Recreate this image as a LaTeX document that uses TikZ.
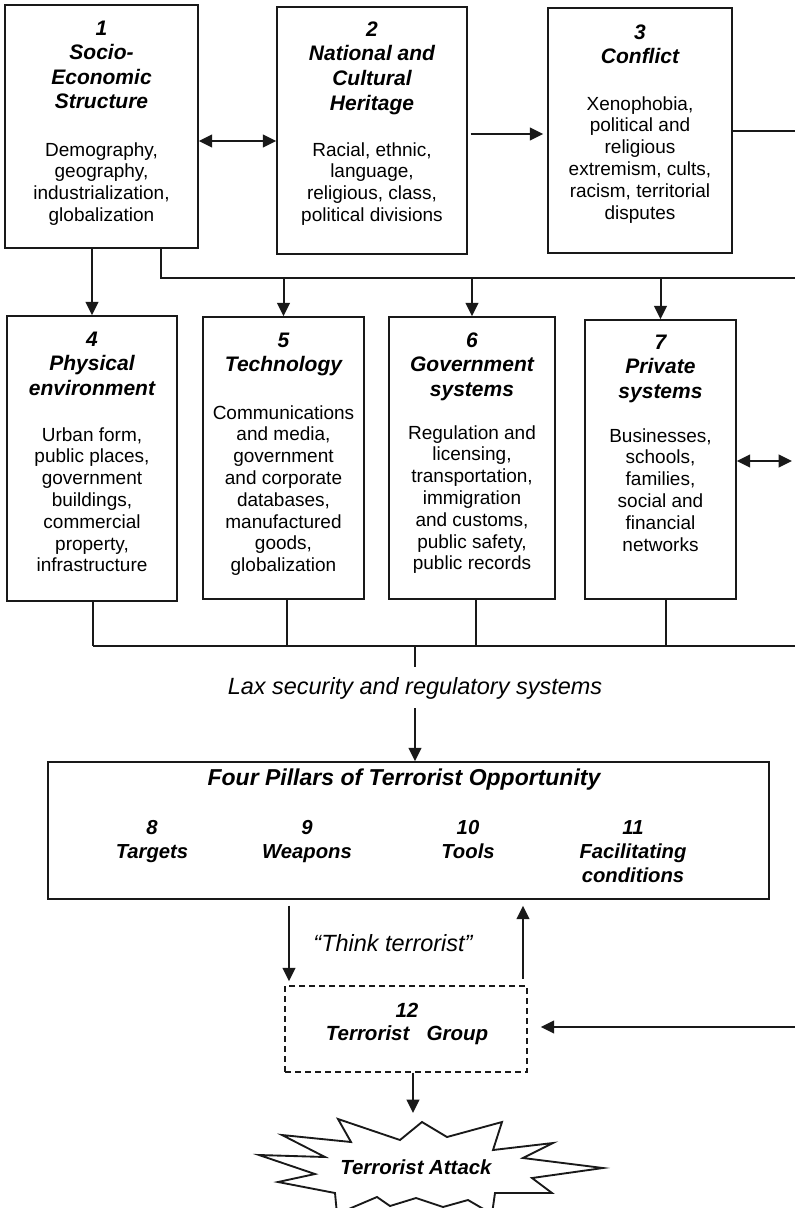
\documentclass[tikz,border=0pt]{standalone}
\usepackage{fontspec}
\setmainfont{Liberation Sans}
\usetikzlibrary{arrows.meta,fit}
\newcommand{\titlefnt}{\fontsize{15.75pt}{18.4pt}\selectfont\bfseries\itshape}
\newcommand{\bodyfnt}{\fontsize{14.25pt}{16.35pt}\selectfont}
\newcommand{\pillfnt}{\fontsize{15.2pt}{18pt}\selectfont\bfseries\itshape}
\newcommand{\bigitfnt}{\fontsize{17.6pt}{21pt}\selectfont\itshape}
\begin{document}
\begin{tikzpicture}[x=0.75pt,y=-0.75pt,
  box/.style={draw=black!90,line width=1.1pt,inner sep=0pt},
  dbox/.style={draw=black!90,line width=1.1pt,inner sep=0pt,dash pattern=on 4.5pt off 3pt},
  ttl/.style={font=\titlefnt,align=center,inner sep=0pt,anchor=north},
  bdy/.style={font=\bodyfnt,align=center,inner sep=0pt,anchor=north},
  pil/.style={font=\pillfnt,align=center,inner sep=0pt,anchor=north},
  arr/.style={draw=black!90,line width=1.5pt,-{Triangle[length=10pt,width=9.5pt]}},
  darr/.style={draw=black!90,line width=1.5pt,{Triangle[length=10pt,width=9.5pt]}-{Triangle[length=10pt,width=9.5pt]}},
  mid/.style={draw=black!90,line width=1pt},
  thin/.style={draw=black!90,line width=0.8pt}]
\useasboundingbox (0,0) rectangle (795,1208);
\clip (0,0) rectangle (795,1208);

% ---------- top row ----------
\node[box,fit={(5,5) (198,248)}] (b1) {};
\node[ttl] (t1) at (101.5,20.5) {1\\Socio-\\Economic\\Structure};
\node[bdy] (d1) at (101.5,142) {Demography,\\geography,\\industrialization,\\globalization};

\node[box,fit={(277,7) (467,254)}] (b2) {};
\node[ttl] (t2) at (372,21.5) {2\\National and\\Cultural\\Heritage};
\node[bdy] (d2) at (372,142) {Racial, ethnic,\\language,\\religious, class,\\political divisions};

\node[box,fit={(548,8) (732,253)}] (b3) {};
\node[ttl] (t3) at (640,24.5) {3\\Conflict};
\node[bdy] (d3) at (640,96) {Xenophobia,\\political and\\religious\\extremism, cults,\\racism, territorial\\disputes};

% ---------- second row ----------
\node[box,fit={(7,316) (177,601)}] (b4) {};
\node[ttl] (t4) at (92,331.5) {4\\Physical\\environment};
\node[bdy] (d4) at (92,427) {Urban form,\\public places,\\government\\buildings,\\commercial\\property,\\infrastructure};

\node[box,fit={(203,317) (364,599)}] (b5) {};
\node[ttl] (t5) at (283.5,332.5) {5\\Technology};
\node[bdy] (d5) at (283.5,405) {Communications\\and media,\\government\\and corporate\\databases,\\manufactured\\goods,\\globalization};

\node[box,fit={(389,317) (555,599)}] (b6) {};
\node[ttl] (t6) at (472,332.5) {6\\Government\\systems};
\node[bdy] (d6) at (472,425) {Regulation and\\licensing,\\transportation,\\immigration\\and customs,\\public safety,\\public records};

\node[box,fit={(585,320) (736,599)}] (b7) {};
\node[ttl] (t7) at (660.5,334.5) {7\\Private\\systems};
\node[bdy] (d7) at (660.5,428) {Businesses,\\schools,\\families,\\social and\\financial\\networks};

% ---------- top connectors ----------
\coordinate (r12) at (0,141);
\draw[darr] (b1.east |- r12) -- (b2.west |- r12);
\coordinate (r23) at (0,134);
\draw[arr,shorten <=2.25pt,shorten >=3pt] (b2.east |- r23) -- (b3.west |- r23);
\coordinate (e3) at (795,131);
\draw[thin] (b3.east |- e3) -- (e3);

\coordinate (k1) at (161,278);
\coordinate (e1) at (795,278);
\draw[mid] (b1.south -| k1) -- (k1) -- (e1);
\draw[arr] (b4.north |- b1.south) -- (b4.north);
\draw[arr] (b5.north |- k1) -- (b5.north);
\draw[arr] (b6.north |- k1) -- (b6.north);
\draw[arr] (b7.north |- k1) -- (b7.north);

\coordinate (e7) at (792,461);
\draw[darr] (b7.east |- e7) -- (e7);

% ---------- bottom collector ----------
\coordinate (q4) at (93,646);
\coordinate (q5) at (287,646);
\coordinate (q6) at (476,646);
\coordinate (q7) at (666,646);
\coordinate (e2) at (795,646);
\draw[thin] (b4.south -| q4) -- (q4);
\draw[thin] (b5.south -| q5) -- (q5);
\draw[thin] (b6.south -| q6) -- (q6);
\draw[thin] (b7.south -| q7) -- (q7);
\draw[thin] (q4) -- (e2);
\coordinate (q0) at (415,646);
\coordinate (q1) at (415,667);
\draw[thin] (q0) -- (q1);

\node[font=\bigitfnt,inner sep=0pt] (lax) at (415,688) {Lax security and regulatory systems};

% ---------- four pillars ----------
\node[box,fit={(48,762) (769,899)}] (bb) {};
\coordinate (l1) at (415,708);
\draw[arr] (l1) -- (bb.north -| l1);
\node[font=\fontsize{17.25pt}{20pt}\selectfont\bfseries\itshape,inner sep=0pt] (fp) at (404,780) {Four Pillars of Terrorist Opportunity};
\node[pil] (p8) at (152,820) {8\\Targets};
\node[pil] (p9) at (307,820) {9\\Weapons};
\node[pil] (p10) at (468,820) {10\\Tools};
\node[pil] (p11) at (633,820) {11\\Facilitating\\conditions};

% ---------- terrorist group ----------
\node[dbox,fit={(285,986) (527,1072)}] (tg) {};
\node[font=\fontsize{15.4pt}{17.3pt}\selectfont\bfseries\itshape,align=center,inner sep=0pt,anchor=north] (tgt) at (407,1003) {12\\Terrorist~~~Group};

\coordinate (dn) at (289,0);
\coordinate (up) at (523,0);
\draw[arr,shorten <=4.5pt,shorten >=3pt] (bb.south -| dn) -- (tg.north -| dn);
\draw[arr,shorten <=5pt,shorten >=4.5pt] (tg.north -| up) -- (bb.south -| up);
\node[font=\bigitfnt,inner sep=0pt] (think) at (393,943) {“Think terrorist”};

\coordinate (e12) at (795,1027);
\draw[arr,shorten >=9.75pt] (e12) -- (tg.east |- e12);

% ---------- terrorist attack ----------
\coordinate (bt) at (413,1113);
\draw[arr] (tg.south -| bt) -- (bt);
\draw[draw=black!90,line width=1.4pt,line join=miter,fill=white]
  (422,1122) -- (447,1137) -- (502,1122) -- (493,1150) -- (553,1143) -- (523,1158)
  -- (603,1168) -- (532,1178) -- (552,1193) -- (495,1193) -- (492,1214)
  -- (468,1200) -- (443,1207) -- (416,1198) -- (390,1206) -- (377,1197) -- (337,1214)
  -- (335,1193) -- (278,1182) -- (315,1174) -- (259,1155) -- (325,1157)
  -- (282,1135) -- (351,1142) -- (338,1119) -- (400,1140) -- cycle;
\node[font=\fontsize{15.3pt}{18pt}\selectfont\bfseries\itshape,inner sep=0pt] (atk) at (416,1167) {Terrorist Attack};
\end{tikzpicture}
\end{document}
